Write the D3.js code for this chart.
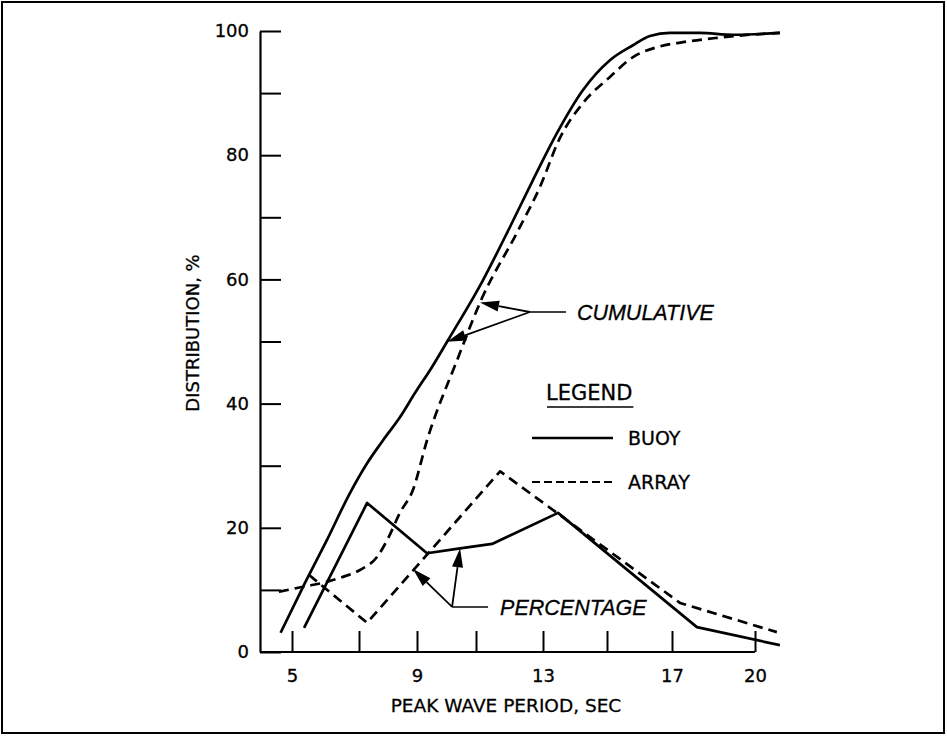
<!DOCTYPE html>
<html><head><meta charset="utf-8">
<script src="https://cdn.jsdelivr.net/npm/d3@7"></script>
<style>
  body { margin: 0; background: #fff; }
  svg { display: block; }
  text { font-family: "DejaVu Sans", "Liberation Sans", Arial, sans-serif; fill: #000;
         stroke: #000; stroke-width: 0.3px; }
  text.callout { font-family: "Liberation Sans", Arial, sans-serif; font-style: italic; }
</style>
</head><body>
<svg id="chart" width="947" height="736"></svg>
<script>
// Peak wave period distribution: buoy vs. array, cumulative and per-bin percentage.
// Each point is [peak wave period (s), distribution (%)].
const buoyCumulative = [
  [4.66, 3.1], [5.33, 10.5], [6.04, 18.0], [6.73, 25.6], [7.28, 30.4], [7.83, 34.1],
  [8.41, 37.8], [8.93, 41.7], [9.51, 45.9], [10.05, 50.2], [11.21, 59.9], [12.01, 68.4],
  [12.70, 76.0], [13.44, 83.6], [14.25, 90.5], [15.09, 95.3], [15.80, 97.7], [16.32, 99.2],
  [16.94, 99.7], [18.01, 99.7], [19.20, 99.4], [20.90, 99.7]
];
const arrayCumulative = [
  [4.61, 9.7], [5.33, 10.5], [6.04, 11.3], [6.52, 12.1], [7.03, 13.2], [7.62, 15.3],
  [7.97, 18.0], [8.41, 22.4], [8.86, 26.1], [9.34, 34.1], [10.36, 47.0], [11.18, 57.0],
  [12.22, 67.5], [12.91, 74.9], [13.53, 82.8], [14.25, 88.4], [15.09, 92.6], [15.80, 95.8],
  [16.54, 97.4], [17.40, 98.2], [18.63, 98.9], [19.82, 99.4], [20.90, 99.7]
];
const buoyPercentage = [
  [5.36, 3.9], [7.28, 24.0], [9.34, 15.9], [10.46, 16.7], [11.48, 17.4],
  [13.47, 22.4], [17.90, 4.0], [20.90, 1.1]
];
const arrayPercentage = [
  [5.51, 12.4], [7.28, 4.7], [11.72, 29.1], [17.29, 7.9], [20.79, 3.2]
];

const xTickValues = [5, 7, 9, 11, 13, 15, 17, 20];
const xTickLabels = [5, 9, 13, 17, 20];
const yTickValues = [0, 10, 20, 30, 40, 50, 60, 70, 80, 90, 100];
const yTickLabels = [0, 20, 40, 60, 80, 100];

const xTitle = "PEAK WAVE PERIOD, SEC";
const yTitle = "DISTRIBUTION, %";
const legendTitle = "LEGEND";
const legendItems = [
  { label: "BUOY", dashed: false },
  { label: "ARRAY", dashed: true }
];

// Callouts: text, knot where the arrows meet, and the series/period each arrow points at
const callouts = [
  { text: "CUMULATIVE", knot: [12.61, 54.75], leaderTo: 13.72, textAt: 14.06,
    targets: [[arrayCumulative, 11.12], [buoyCumulative, 10.02]] },
  { text: "PERCENTAGE", knot: [10.19, 7.25], leaderTo: 11.36, textAt: 11.72,
    targets: [[buoyPercentage, 10.46], [arrayPercentage, 8.86]] }
];

// ---- layout ----
const svg = d3.select("#chart");
const plotLeft = 260;
const dashPattern = "10,6";

// the period axis is hand-ruled, so the scale is piecewise through each tick
const x = d3.scaleLinear()
  .domain(xTickValues)
  .range([292, 359, 417, 476, 543, 607, 672, 755]);
const y = d3.scaleLinear().domain([0, 100]).range([652, 31]);

// outer frame
svg.append("rect")
  .attr("x", 2).attr("y", 2).attr("width", 942).attr("height", 731)
  .attr("fill", "none").attr("stroke", "#000").attr("stroke-width", 2);

// y axis
const yAxis = d3.axisLeft(y)
  .tickValues(yTickValues)
  .tickSizeInner(-21).tickSizeOuter(0).tickPadding(11)
  .tickFormat(d => yTickLabels.includes(d) ? d : "");
const gy = svg.append("g").attr("transform", `translate(${plotLeft},0)`).call(yAxis);
gy.select(".domain").attr("stroke-width", 2.2);
gy.selectAll(".tick line").attr("stroke-width", 2);
gy.selectAll(".tick text").attr("font-size", 18).attr("font-family", null).attr("fill", null);

// x axis
const xAxis = d3.axisBottom(x)
  .tickValues(xTickValues)
  .tickSizeInner(-21).tickSizeOuter(0).tickPadding(17)
  .tickFormat(d => xTickLabels.includes(d) ? d : "");
const gx = svg.append("g").attr("transform", `translate(0,${y(0)})`).call(xAxis);
gx.select(".domain").remove();
gx.selectAll(".tick line").attr("stroke-width", 2);
gx.selectAll(".tick text").attr("font-size", 18).attr("font-family", null).attr("fill", null);
svg.append("line")
  .attr("x1", plotLeft).attr("x2", x(d3.max(xTickValues)))
  .attr("y1", y(0)).attr("y2", y(0))
  .attr("stroke", "#000").attr("stroke-width", 2.2);

// axis titles
svg.append("text")
  .attr("x", 506).attr("y", 712)
  .attr("text-anchor", "middle").attr("font-size", 18.5)
  .text(xTitle);
svg.append("text")
  .attr("transform", "translate(199,333) rotate(-90)")
  .attr("text-anchor", "middle").attr("font-size", 18)
  .text(yTitle);

// series
const smooth = d3.line().x(d => x(d[0])).y(d => y(d[1])).curve(d3.curveMonotoneX);
const straight = d3.line().x(d => x(d[0])).y(d => y(d[1]));

const seriesDefs = [
  { data: buoyCumulative, gen: smooth, dashed: false },
  { data: arrayCumulative, gen: smooth, dashed: true },
  { data: buoyPercentage, gen: straight, dashed: false },
  { data: arrayPercentage, gen: straight, dashed: true }
];
svg.append("g").selectAll("path")
  .data(seriesDefs)
  .join("path")
  .attr("d", s => s.gen(s.data))
  .attr("fill", "none")
  .attr("stroke", "#000")
  .attr("stroke-width", 2.7)
  .attr("stroke-linejoin", "round")
  .attr("stroke-dasharray", s => s.dashed ? dashPattern : null);

// callouts with arrows
function valueAt(series, xv) {
  for (let i = 1; i < series.length; i++) {
    const [x0, y0] = series[i - 1], [x1, y1] = series[i];
    if (xv >= x0 && xv <= x1) return y0 + (y1 - y0) * (xv - x0) / (x1 - x0);
  }
  return series[series.length - 1][1];
}
function arrow(g, fx, fy, tx, ty) {
  const len = Math.hypot(tx - fx, ty - fy);
  const ux = (tx - fx) / len, uy = (ty - fy) / len;
  const headL = 19, headW = 5.5;
  const bx = tx - ux * headL, by = ty - uy * headL;
  g.append("line").attr("x1", fx).attr("y1", fy).attr("x2", bx).attr("y2", by)
    .attr("stroke", "#000").attr("stroke-width", 1.8);
  g.append("path")
    .attr("d", `M${tx},${ty}L${bx - uy * headW},${by + ux * headW}L${bx + uy * headW},${by - ux * headW}Z`)
    .attr("fill", "#000");
}
const gc = svg.append("g");
callouts.forEach(c => {
  const kx = x(c.knot[0]), ky = y(c.knot[1]);
  gc.append("line").attr("x1", kx).attr("y1", ky).attr("x2", x(c.leaderTo)).attr("y2", ky)
    .attr("stroke", "#000").attr("stroke-width", 1.6);
  c.targets.forEach(([series, xv]) => arrow(gc, kx, ky, x(xv), y(valueAt(series, xv))));
  gc.append("text")
    .attr("class", "callout")
    .attr("x", x(c.textAt)).attr("y", ky).attr("dy", "0.36em")
    .attr("font-size", 21.5)
    .text(c.text);
});

// legend
const lg = svg.append("g");
const lgTitle = lg.append("text")
  .attr("x", 546).attr("y", 400).attr("font-size", 21)
  .text(legendTitle);
const tw = lgTitle.node().getComputedTextLength();
lg.append("line").attr("x1", 547).attr("x2", 547 + tw).attr("y1", 407).attr("y2", 407)
  .attr("stroke", "#000").attr("stroke-width", 1.6);
legendItems.forEach((item, i) => {
  const ly = 438 + i * 44;
  lg.append("line")
    .attr("x1", 532).attr("x2", 613).attr("y1", ly).attr("y2", ly)
    .attr("stroke", "#000").attr("stroke-width", item.dashed ? 1.8 : 2.4)
    .attr("stroke-dasharray", item.dashed ? "8,4" : null);
  lg.append("text")
    .attr("x", 628).attr("y", ly).attr("dy", "0.36em").attr("font-size", 19)
    .text(item.label);
});
</script>
</body></html>
